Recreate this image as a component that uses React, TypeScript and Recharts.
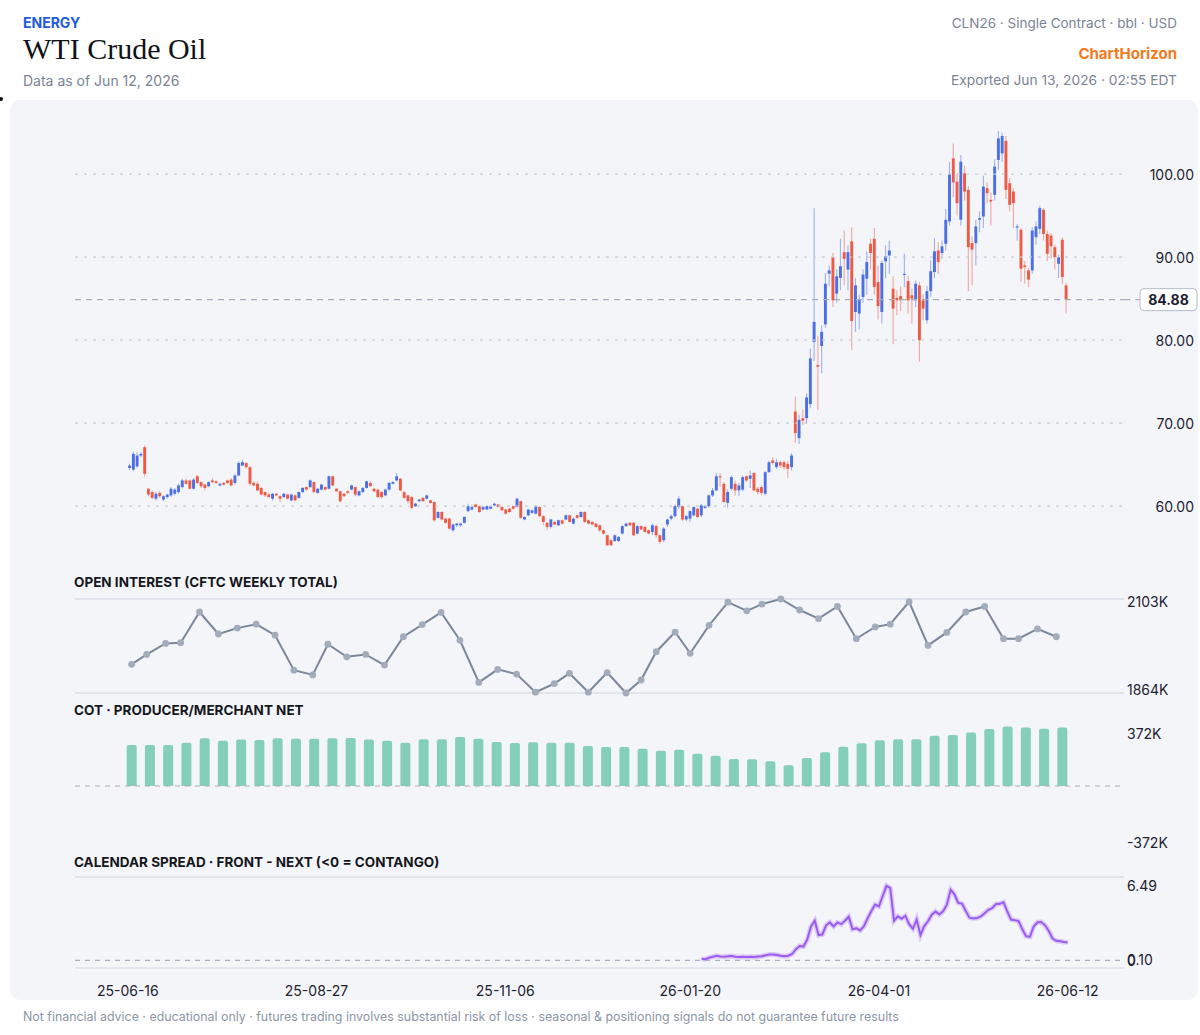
import React from 'react';
import { ComposedChart, Bar, Line, XAxis, YAxis, ReferenceLine } from 'recharts';

const SANS = 'Inter, "Noto Sans", "DejaVu Sans", sans-serif';
const INK = '#1d2230';
const MUTED = '#7b8494';
const UP = '#4b6fe4';
const DOWN = '#ef5a45';

// ---------- data ----------
const dateTickIndex = [0, 50, 100, 149, 199, 249];
const dateTickLabels = ['25-06-16', '25-08-27', '25-11-06', '26-01-20', '26-04-01', '26-06-12'];
const priceTicks = [60, 70, 80, 90, 100];
const priceDomain: [number, number] = [54, 107];

// daily candles: [open, high, low, close]
const dailyOHLC: number[][] = [
  [64.6, 65.1, 64.3, 64.9], [64.4, 66.6, 64.2, 66.3], [64.8, 66.5, 64.6, 66.1], [66.1, 66.5, 65.9, 66.3], [67.1, 67.3, 63.6, 63.9],
  [62.1, 62.2, 61.2, 61.4], [61.7, 61.9, 60.8, 61.0], [60.9, 61.7, 60.7, 61.5], [61.6, 61.8, 61.0, 61.2], [60.8, 61.3, 60.6, 61.2],
  [61.1, 61.5, 60.9, 61.4], [61.3, 62.3, 61.1, 62.1], [61.5, 62.2, 61.3, 62.0], [61.7, 62.7, 61.5, 62.5], [62.3, 63.3, 62.1, 63.1],
  [63.1, 63.3, 62.6, 62.7], [63.1, 63.2, 62.0, 62.1], [62.1, 63.4, 62.0, 63.2], [63.6, 63.8, 62.7, 62.8], [62.9, 63.0, 62.2, 62.4],
  [62.6, 62.7, 61.9, 62.2], [62.4, 63.0, 62.3, 62.9], [63.1, 63.4, 62.8, 62.9], [63.0, 63.1, 62.7, 62.8], [62.5, 62.8, 62.4, 62.7],
  [62.8, 62.9, 62.5, 62.6], [63.1, 63.2, 62.7, 62.8], [63.2, 63.4, 62.4, 62.5], [62.8, 63.9, 62.6, 63.7], [63.7, 65.4, 63.6, 65.2],
  [64.9, 65.6, 64.8, 65.3], [65.2, 65.3, 64.5, 64.7], [64.7, 64.8, 62.5, 62.7], [62.8, 63.0, 62.4, 62.5], [62.7, 63.0, 61.8, 61.9],
  [62.2, 62.3, 61.3, 61.4], [61.7, 61.8, 61.1, 61.3], [61.4, 61.6, 61.0, 61.1], [60.9, 61.6, 60.7, 61.5], [61.5, 61.6, 61.2, 61.3],
  [61.2, 61.3, 60.5, 60.9], [61.1, 61.6, 61.0, 61.5], [61.4, 61.5, 60.8, 60.9], [60.7, 61.5, 60.6, 61.4], [61.3, 61.4, 60.6, 60.7],
  [61.0, 61.8, 60.9, 61.7], [61.7, 62.3, 61.6, 62.2], [62.3, 62.4, 61.9, 62.0], [62.3, 63.2, 62.2, 63.1], [62.9, 63.0, 61.6, 61.7],
  [61.6, 62.2, 61.5, 62.1], [62.0, 62.7, 61.9, 62.6], [62.3, 62.4, 61.9, 62.0], [62.1, 63.7, 62.0, 63.6], [63.6, 63.7, 62.4, 62.5],
  [62.1, 62.2, 61.7, 61.8], [61.8, 61.9, 60.4, 60.6], [61.5, 61.6, 61.1, 61.2], [61.8, 61.9, 61.5, 61.6], [62.0, 62.6, 61.9, 62.5],
  [62.3, 62.4, 61.2, 61.4], [61.3, 61.9, 61.2, 61.8], [61.7, 62.3, 61.6, 62.2], [62.2, 63.1, 62.1, 63.0], [62.8, 63.0, 62.3, 62.4],
  [62.1, 62.2, 61.7, 61.8], [62.0, 62.1, 61.0, 61.1], [61.7, 61.8, 60.9, 61.1], [61.3, 62.1, 61.2, 62.0], [62.0, 62.9, 61.9, 62.8],
  [62.7, 63.0, 62.6, 62.9], [63.1, 64.0, 63.0, 63.6], [63.3, 63.4, 61.8, 61.9], [61.7, 61.8, 60.9, 61.0], [61.3, 61.4, 60.3, 60.6],
  [61.1, 61.2, 59.6, 59.8], [60.0, 60.4, 59.9, 60.3], [60.6, 60.9, 60.5, 60.8], [61.0, 61.1, 60.5, 60.6], [60.9, 61.4, 60.8, 61.3],
  [60.7, 60.8, 60.3, 60.4], [60.5, 60.6, 58.1, 58.3], [58.6, 59.4, 58.5, 59.3], [59.3, 59.4, 58.3, 58.4], [58.5, 58.6, 57.9, 58.0],
  [58.5, 58.6, 57.2, 57.3], [57.1, 57.9, 56.9, 57.8], [57.7, 58.0, 57.5, 57.9], [57.7, 58.0, 57.5, 57.9], [58.0, 58.8, 57.9, 58.7],
  [59.4, 60.3, 59.3, 60.0], [59.6, 60.2, 59.5, 59.9], [60.2, 60.3, 59.8, 59.9], [60.0, 60.1, 59.2, 59.3], [59.6, 60.0, 59.5, 59.9],
  [59.6, 60.1, 59.5, 60.0], [59.7, 60.1, 59.6, 60.0], [60.1, 60.4, 60.0, 60.3], [60.2, 60.3, 59.8, 59.9], [59.9, 60.0, 59.4, 59.5],
  [59.6, 59.7, 59.0, 59.1], [59.7, 59.8, 59.2, 59.3], [60.0, 60.1, 59.6, 59.7], [59.9, 61.0, 59.8, 60.9], [60.6, 60.7, 58.5, 58.6],
  [58.4, 58.8, 58.3, 58.7], [58.9, 59.7, 58.8, 59.6], [59.2, 59.6, 59.1, 59.5], [59.1, 60.1, 59.0, 60.0], [59.9, 60.0, 58.7, 58.8],
  [58.8, 58.9, 57.8, 58.1], [58.0, 58.1, 57.1, 57.5], [57.5, 58.5, 57.3, 58.4], [58.1, 58.2, 57.7, 57.8], [57.7, 58.4, 57.6, 58.3],
  [58.3, 58.4, 57.8, 57.9], [58.4, 59.0, 58.3, 58.9], [58.9, 59.0, 58.0, 58.1], [57.9, 58.6, 57.8, 58.5], [58.9, 59.0, 58.5, 58.6],
  [58.7, 59.4, 58.6, 59.3], [59.3, 59.4, 58.0, 58.1], [58.3, 58.4, 57.8, 57.9], [58.1, 58.2, 57.7, 57.8], [57.9, 58.0, 57.4, 57.5],
  [57.7, 57.8, 56.9, 57.1], [57.1, 57.2, 56.6, 56.7], [56.5, 56.6, 55.2, 55.3], [55.9, 56.0, 55.2, 55.3], [55.8, 56.6, 55.7, 56.5],
  [55.8, 56.4, 55.7, 56.3], [56.7, 57.7, 56.6, 57.6], [57.6, 58.0, 57.5, 57.9], [58.0, 58.1, 57.6, 57.7], [58.0, 58.1, 56.4, 56.5],
  [56.7, 57.7, 56.6, 57.6], [57.6, 57.7, 57.1, 57.2], [57.5, 57.6, 56.8, 56.9], [57.1, 57.2, 56.6, 56.7], [56.9, 57.9, 56.5, 57.7],
  [57.6, 57.8, 56.2, 56.5], [56.5, 56.6, 55.5, 55.7], [55.9, 57.5, 55.7, 57.3], [57.8, 58.5, 57.5, 58.4], [58.5, 59.0, 58.3, 58.8],
  [58.8, 60.2, 58.6, 60.0], [59.9, 61.2, 59.7, 60.9], [60.0, 60.1, 58.2, 58.4], [58.4, 59.0, 58.2, 58.8], [58.5, 59.5, 58.1, 59.4],
  [58.9, 60.0, 58.8, 59.9], [59.7, 59.8, 58.6, 58.7], [58.9, 60.3, 58.7, 60.1], [59.8, 60.1, 59.7, 60.0], [60.0, 61.4, 59.8, 61.3],
  [61.3, 62.2, 61.1, 61.9], [61.9, 64.0, 61.8, 63.6], [63.6, 64.0, 62.3, 63.5], [62.7, 62.9, 60.4, 60.5], [60.4, 62.0, 59.8, 61.7],
  [62.1, 63.7, 61.9, 63.5], [62.7, 63.1, 61.3, 61.9], [61.9, 62.8, 61.2, 62.5], [62.0, 63.7, 61.8, 63.5], [63.6, 63.7, 62.9, 63.1],
  [63.3, 64.3, 62.2, 63.7], [64.0, 64.1, 61.8, 61.9], [62.1, 62.3, 61.4, 61.7], [62.3, 62.5, 61.3, 61.6], [61.5, 64.2, 61.3, 64.1],
  [64.1, 65.5, 64.0, 65.3], [65.5, 65.9, 65.0, 65.2], [64.7, 65.7, 64.5, 65.3], [65.3, 65.5, 64.6, 64.9], [65.3, 65.5, 64.4, 64.7],
  [65.1, 65.4, 63.4, 64.5], [64.7, 66.4, 64.3, 66.1], [71.4, 73.2, 67.6, 68.8], [68.2, 71.0, 67.5, 70.4], [70.6, 71.6, 69.8, 70.3],
  [70.6, 73.6, 70.0, 73.1], [72.3, 79.0, 71.8, 77.8], [79.8, 95.9, 77.5, 82.2], [77.0, 80.5, 71.6, 76.8], [79.3, 81.8, 76.0, 81.0],
  [81.9, 88.1, 81.5, 86.8], [88.0, 89.0, 86.5, 88.4], [90.0, 90.5, 84.0, 84.8], [85.6, 88.5, 84.5, 87.7], [87.5, 92.2, 86.0, 88.9],
  [90.6, 93.2, 86.6, 89.8], [88.5, 91.4, 86.0, 90.6], [91.9, 93.6, 78.8, 82.3], [83.4, 87.5, 81.0, 86.6], [83.2, 85.5, 81.3, 84.9],
  [85.2, 88.5, 84.5, 87.9], [87.4, 90.7, 85.5, 89.4], [91.6, 92.2, 88.5, 90.5], [92.2, 93.5, 85.5, 86.4], [87.0, 89.0, 82.5, 84.1],
  [83.4, 89.6, 82.0, 89.3], [89.5, 91.4, 87.5, 90.1], [90.2, 92.0, 88.0, 90.8], [86.2, 87.7, 79.5, 83.8], [85.1, 86.0, 83.0, 84.8],
  [85.3, 86.5, 83.5, 84.8], [87.9, 90.4, 86.4, 88.0], [87.1, 87.8, 83.2, 84.8], [85.4, 86.2, 82.0, 85.0], [84.8, 87.2, 84.0, 86.8],
  [86.6, 87.0, 77.4, 80.0], [84.8, 85.5, 82.4, 83.8], [82.4, 86.5, 82.0, 85.9], [85.9, 89.6, 85.2, 88.3], [88.2, 92.3, 87.5, 90.7],
  [90.8, 91.8, 88.0, 89.4], [90.5, 92.0, 89.8, 91.3], [91.6, 95.8, 90.8, 94.5], [94.3, 101.5, 93.8, 100.0], [101.9, 103.7, 97.2, 99.0],
  [99.1, 100.0, 95.0, 96.5], [94.5, 102.3, 93.8, 101.5], [100.1, 101.0, 96.8, 97.9], [98.1, 98.6, 85.9, 91.2], [91.7, 92.5, 86.6, 90.9],
  [91.7, 94.5, 89.0, 93.7], [94.5, 95.5, 93.0, 94.7], [94.9, 99.8, 93.5, 98.5], [98.3, 99.0, 96.5, 97.7], [96.9, 97.8, 93.8, 96.7],
  [97.5, 101.8, 96.8, 100.9], [101.7, 105.2, 100.5, 104.3], [102.5, 105.0, 101.5, 104.6], [104.0, 104.6, 97.0, 98.1], [98.9, 99.5, 95.5, 96.3],
  [97.9, 98.3, 93.5, 96.5], [93.6, 94.0, 92.0, 93.7], [93.3, 93.5, 87.0, 88.6], [89.0, 89.5, 86.8, 88.8], [88.4, 88.7, 86.4, 87.3],
  [88.4, 93.6, 88.0, 93.2], [92.4, 94.3, 91.5, 93.7], [93.4, 96.2, 92.8, 95.9], [95.7, 95.9, 92.0, 92.8], [92.8, 93.2, 89.5, 90.4],
  [92.6, 92.9, 89.8, 91.3], [91.2, 91.5, 88.5, 90.0], [89.2, 90.3, 87.5, 90.0], [92.1, 92.4, 86.8, 87.6], [86.6, 86.9, 83.2, 84.88],
];

// CFTC weekly report days (trading-day index) and total open interest, thousands of contracts
const oiWeekIndex = [
  1, 5, 10, 14, 19, 24, 29, 34, 39, 44, 49, 53, 58, 63, 68, 73, 78, 83, 88, 93, 98, 103, 108, 113, 117, 122,
  127, 132, 136, 140, 145, 149, 154, 159, 164, 168, 173, 178, 183, 188, 193, 198, 202, 207, 212, 217, 222, 227, 232, 236, 241, 246,
];
const openInterestK = [
  1937, 1962, 1990, 1992, 2070, 2014, 2029, 2039, 2011, 1922, 1910, 1988, 1956, 1962, 1935, 2007, 2038, 2069, 1998, 1891, 1924, 1912, 1866, 1888, 1914, 1866,
  1916, 1864, 1897, 1969, 2019, 1965, 2036, 2095, 2073, 2090, 2103, 2075, 2053, 2084, 2002, 2032, 2039, 2096, 1985, 2018, 2070, 2084, 2002, 2002, 2027, 2007,
];

// producer/merchant net position, thousands of contracts, one per week
const producerNetK = [
  256, 256, 256, 271, 298, 283, 290, 288, 298, 295, 295, 298, 300, 290, 283, 271, 292, 292, 306, 295, 275, 269, 273, 271, 271, 250,
  244, 244, 233, 221, 227, 202, 189, 169, 167, 154, 129, 175, 211, 246, 267, 286, 292, 292, 314, 319, 335, 356, 372, 365, 358, 365,
];

// front minus next month, USD, daily from trading-day index 152
const spreadFirstIndex = 152;
const spreadFrontNext = [
  0.14, 0.10, 0.22, 0.32, 0.40, 0.34, 0.31, 0.36, 0.38, 0.31, 0.29, 0.32, 0.30, 0.31, 0.30, 0.33, 0.36, 0.45, 0.51, 0.50,
  0.47, 0.40, 0.36, 0.40, 0.55, 0.97, 1.25, 1.20, 1.80, 2.95, 3.45, 2.20, 2.25, 3.05, 3.30, 2.95, 3.30, 3.15, 3.45, 3.80,
  2.70, 2.80, 2.60, 2.95, 3.65, 4.30, 4.85, 4.70, 5.60, 6.49, 6.30, 3.45, 3.84, 3.62, 3.88, 3.15, 2.75, 3.55, 2.20, 2.98,
  3.40, 3.98, 4.25, 4.00, 4.27, 4.85, 6.15, 5.75, 5.00, 4.94, 4.30, 3.72, 3.64, 3.68, 3.82, 4.10, 4.40, 4.55, 4.90, 4.92,
  5.05, 4.27, 3.55, 3.50, 3.42, 2.70, 2.10, 2.06, 2.95, 3.32, 3.33, 3.05, 2.55, 1.90, 1.70, 1.66, 1.60, 1.55,
];

// ---------- derived tables ----------
const LEAD_SLOTS = 14;
const TRAIL_SLOTS = 15;

type Row = { slot: number; range?: [number, number]; o?: number; h?: number; l?: number; c?: number; oi?: number; sp?: number };
const rows: Row[] = [];
for (let s = -LEAD_SLOTS; s < dailyOHLC.length + TRAIL_SLOTS; s++) {
  const row: Row = { slot: s };
  const k = s >= 0 ? dailyOHLC[s] : undefined;
  if (k) {
    row.o = k[0];
    row.h = k[1];
    row.l = k[2];
    row.c = k[3];
    row.range = [k[2], k[1]];
  }
  const w = oiWeekIndex.indexOf(s);
  if (w >= 0) row.oi = openInterestK[w];
  const j = s - spreadFirstIndex;
  if (j >= 0 && j < spreadFrontNext.length) row.sp = spreadFrontNext[j];
  rows.push(row);
}
const weeks = producerNetK.map((v, i) => ({ week: i, net: v }));

const lastClose = dailyOHLC[dailyOHLC.length - 1][3];
const oiMax = Math.max(...openInterestK);
const oiMin = Math.min(...openInterestK);
const netMax = Math.max(...producerNetK.map(Math.abs));
const spMax = Math.max(...spreadFrontNext);
const spMin = Math.min(...spreadFrontNext);
const spPad = (spMax - spMin) * 0.12;

// ---------- layout ----------
const CHART_W = 1200;
const PLOT_LEFT = 74.97;
const PLOT_RIGHT_MARGIN = 75.73;
const RIGHT_LABEL_X = 1194;
const SUB_LABEL_X = 1127;

// ---------- renderers ----------
const Candle = (props: any) => {
  const { x, y, width, height, payload } = props;
  if (!payload || payload.o == null || !isFinite(y) || !isFinite(height)) return <g />;
  const { o, h, l, c } = payload;
  const top = Math.min(y, y + height);
  const bottom = Math.max(y, y + height);
  const span = h - l;
  const at = (v: number) => (span > 0 ? top + ((h - v) / span) * (bottom - top) : top);
  const cx = x + width / 2;
  const color = c >= o ? UP : DOWN;
  const bTop = at(Math.max(o, c));
  const bBot = at(Math.min(o, c));
  return (
    <g>
      <line x1={cx} x2={cx} y1={top} y2={bottom} stroke={color} strokeOpacity={0.5} strokeWidth={1.1} />
      <rect x={cx - 1.45} y={bTop} width={2.9} height={Math.max(bBot - bTop, 1.2)} fill={color} />
    </g>
  );
};

const axisText = (text: string, anchor: 'start' | 'end', atX: number, dy = 0) => (p: any) => {
  const vb = p.viewBox || {};
  const yMid = (vb.y ?? 0) + (vb.height ?? 0) / 2 + dy;
  return (
    <text x={atX} y={yMid} textAnchor={anchor} dominantBaseline="central" fontSize={14} fill={INK} fontFamily={SANS}>
      {text}
    </text>
  );
};

const lastPriceTag = (p: any) => {
  const vb = p.viewBox || {};
  const yMid = (vb.y ?? 0) + (vb.height ?? 0) / 2;
  const xr = (vb.x ?? 0) + (vb.width ?? 0);
  return (
    <g>
      <line x1={xr} x2={1140} y1={yMid} y2={yMid} stroke="#a7aebb" strokeWidth={1.2} strokeDasharray="6 5" />
      <rect x={1140} y={yMid - 11} width={57} height={22} rx={4} fill="#ffffff" stroke="#b5bcc9" />
      <text x={1168.5} y={yMid} textAnchor="middle" dominantBaseline="central" fontSize={14} fontWeight={700} fill={INK} fontFamily={SANS}>
        {lastClose.toFixed(2)}
      </text>
    </g>
  );
};

const DateTick = (props: any) => {
  const { x, y, payload } = props;
  const k = dateTickIndex.indexOf(payload.value);
  return (
    <text x={x} y={y + 14} textAnchor="middle" dominantBaseline="central" fontSize={14} fill={INK} fontFamily={SANS}>
      {k >= 0 ? dateTickLabels[k] : ''}
    </text>
  );
};

const abs = (left: number, top: number): React.CSSProperties => ({ position: 'absolute', left, top });

const Title = ({ top, children }: { top: number; children: React.ReactNode }) => (
  <div style={{ ...abs(74, top), fontFamily: SANS, fontSize: 13.5, fontWeight: 700, color: '#15171c', lineHeight: '16px', whiteSpace: 'nowrap' }}>
    {children}
  </div>
);

export default function App() {
  return (
    <div style={{ position: 'absolute', left: 0, top: 0, width: 1200, height: 1035, background: '#ffffff', overflow: 'hidden', fontFamily: SANS }}>
      {/* header */}
      <div style={{ ...abs(23, 14), fontSize: 14, fontWeight: 700, color: '#1d5be0', lineHeight: '17px' }}>ENERGY</div>
      <div style={{ ...abs(23, 31), fontFamily: '"Liberation Serif", "DejaVu Serif", serif', fontSize: 30, color: '#111318', lineHeight: '36px', whiteSpace: 'nowrap' }}>
        WTI Crude Oil
      </div>
      <div style={{ ...abs(23, 72), fontSize: 14, color: MUTED, lineHeight: '17px' }}>Data as of Jun 12, 2026</div>
      <div style={{ position: 'absolute', right: 23, top: 15, fontSize: 13.5, color: MUTED, lineHeight: '17px', whiteSpace: 'nowrap' }}>
        CLN26 · Single Contract · bbl · USD
      </div>
      <div style={{ position: 'absolute', right: 23, top: 45, fontSize: 15, fontWeight: 700, color: '#f27a1c', lineHeight: '18px' }}>ChartHorizon</div>
      <div style={{ position: 'absolute', right: 23, top: 72, fontSize: 13.75, color: MUTED, lineHeight: '17px', whiteSpace: 'nowrap' }}>
        Exported Jun 13, 2026 · 02:55 EDT
      </div>
      <div style={{ ...abs(-1, 97), width: 4, height: 4, borderRadius: 2, background: '#111' }} />

      {/* panel */}
      <div style={{ ...abs(10, 100), width: 1188, height: 900, background: '#f4f5f9', borderRadius: 10 }} />

      {/* price candles */}
      <div style={abs(0, 100)}>
        <ComposedChart width={CHART_W} height={460} data={rows} margin={{ top: 16, right: PLOT_RIGHT_MARGIN, bottom: 4, left: PLOT_LEFT }} barCategoryGap={0} barGap={0}>
          <XAxis dataKey="slot" hide />
          <YAxis hide type="number" domain={priceDomain} allowDataOverflow />
          {priceTicks.map((v) => (
            <ReferenceLine key={v} y={v} stroke="#c6cbd5" strokeWidth={1.2} strokeDasharray="3 6" label={axisText(v.toFixed(2), 'end', RIGHT_LABEL_X)} />
          ))}
          <ReferenceLine y={lastClose} stroke="#a7aebb" strokeWidth={1.2} strokeDasharray="6 5" label={lastPriceTag} />
          <Bar dataKey="range" shape={<Candle />} isAnimationActive={false} />
        </ComposedChart>
      </div>

      {/* open interest */}
      <Title top={574}>OPEN INTEREST (CFTC WEEKLY TOTAL)</Title>
      <div style={abs(0, 590)}>
        <ComposedChart width={CHART_W} height={110} data={rows} margin={{ top: 9, right: PLOT_RIGHT_MARGIN, bottom: 7, left: PLOT_LEFT }}>
          <XAxis dataKey="slot" hide />
          <YAxis hide type="number" domain={[oiMin, oiMax]} />
          <ReferenceLine y={oiMax} stroke="#cdd3de" strokeWidth={1.2} label={axisText(`${oiMax}K`, 'start', SUB_LABEL_X, 2)} />
          <ReferenceLine y={oiMin} stroke="#cdd3de" strokeWidth={1.2} label={axisText(`${oiMin}K`, 'start', SUB_LABEL_X, -4)} />
          <Line
            dataKey="oi"
            connectNulls
            stroke="#7c879a"
            strokeWidth={2}
            dot={{ r: 3.4, fill: '#a3acbc', stroke: 'none' }}
            isAnimationActive={false}
          />
        </ComposedChart>
      </div>

      {/* COT producer / merchant net */}
      <Title top={702}>COT · PRODUCER/MERCHANT NET</Title>
      <div style={abs(0, 720)}>
        <ComposedChart width={CHART_W} height={130} data={weeks} margin={{ top: 6.5, right: PLOT_RIGHT_MARGIN, bottom: 4.5, left: PLOT_LEFT }}>
          <XAxis dataKey="week" hide padding={{ left: 47.7, right: 52.7 }} />
          <YAxis hide type="number" domain={[-netMax, netMax]} />
          <ReferenceLine y={0} stroke="#a9b0be" strokeWidth={1.2} strokeDasharray="5 5" />
          <ReferenceLine y={netMax} stroke="none" label={axisText(`${netMax}K`, 'start', SUB_LABEL_X, 6.5)} />
          <ReferenceLine y={-netMax} stroke="none" label={axisText(`-${netMax}K`, 'start', SUB_LABEL_X, -3)} />
          <Bar dataKey="net" fill="#84cfb8" barSize={10} radius={[2, 2, 0, 0]} isAnimationActive={false} />
        </ComposedChart>
      </div>

      {/* calendar spread */}
      <Title top={854}>CALENDAR SPREAD · FRONT - NEXT (&lt;0 = CONTANGO)</Title>
      <div style={abs(0, 870)}>
        <ComposedChart width={CHART_W} height={130} data={rows} margin={{ top: 7, right: PLOT_RIGHT_MARGIN, bottom: 0, left: PLOT_LEFT }}>
          <XAxis
            dataKey="slot"
            ticks={dateTickIndex}
            interval={0}
            tickLine={false}
            axisLine={{ stroke: '#d2d7e0', strokeWidth: 1.2 }}
            height={32}
            tick={<DateTick />}
          />
          <YAxis hide type="number" domain={[spMin - spPad, spMax + spPad]} />
          <ReferenceLine y={spMax + spPad} stroke="#cdd3de" strokeWidth={1.2} />
          <ReferenceLine y={0} stroke="#a9b0be" strokeWidth={1.2} strokeDasharray="5 5" label={axisText('0', 'start', SUB_LABEL_X)} />
          <ReferenceLine y={spMax} stroke="none" label={axisText(spMax.toFixed(2), 'start', SUB_LABEL_X)} />
          <ReferenceLine y={spMin} stroke="none" label={axisText(spMin.toFixed(2), 'start', SUB_LABEL_X)} />
          <Line dataKey="sp" stroke="#c9a8f7" strokeOpacity={0.55} strokeWidth={5} dot={false} isAnimationActive={false} />
          <Line dataKey="sp" stroke="#9a5cf0" strokeWidth={2} dot={false} isAnimationActive={false} />
        </ComposedChart>
      </div>

      {/* footer */}
      <div style={{ ...abs(23, 1009), fontSize: 12.4, color: '#8d95a5', lineHeight: '16px', whiteSpace: 'nowrap' }}>
        Not financial advice · educational only · futures trading involves substantial risk of loss · seasonal &amp; positioning signals do not guarantee future results
      </div>
    </div>
  );
}
